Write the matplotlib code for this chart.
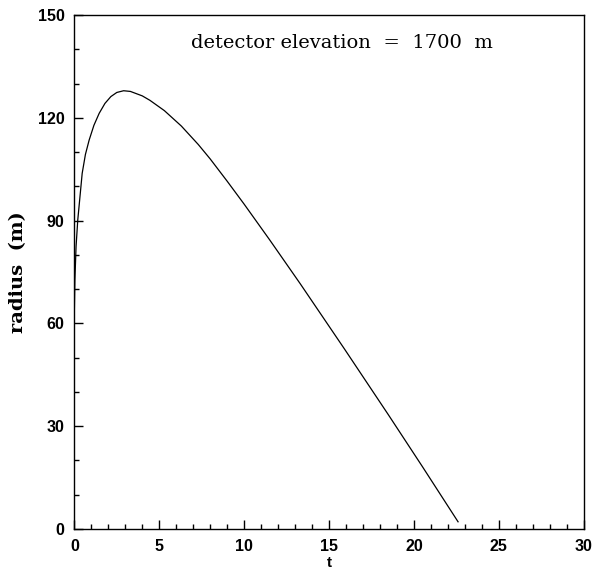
import matplotlib
matplotlib.use("Agg")
import matplotlib.pyplot as plt
from matplotlib.ticker import MultipleLocator

# Curve
t_vals = [0.0, 0.0, 0.03, 0.1, 0.2, 0.46, 0.65, 0.87, 1.15, 1.46, 1.8, 2.15, 2.5,
          2.9, 3.3, 4.0, 4.45, 5.3, 6.3, 7.3, 8.0, 9.0, 10.0, 11.5, 13.3,
          15.9, 18.5, 20.5, 22.6]
r_vals = [0.0, 64.0, 72.7, 82.5, 90.2, 103.8, 109.3, 113.5, 117.8, 121.3, 124.2, 126.2, 127.4,
          127.9, 127.7, 126.4, 125.1, 122.1, 117.6, 112.2, 108.0, 101.5, 94.8, 84.4, 71.6,
          52.6, 33.3, 18.2, 2.1]

x_ticks = [0, 5, 10, 15, 20, 25, 30]
y_ticks = [0, 30, 60, 90, 120, 150]
annotation = "detector elevation  =  1700  m"

fig = plt.figure(figsize=(5.95, 5.73), dpi=100)
ax = fig.add_axes([0.125, 0.0768, 0.856, 0.897])

ax.plot(t_vals, r_vals, color="black", lw=0.9)

ax.set_xlim(0, 30)
ax.set_ylim(0, 150)
ax.set_xticks(x_ticks)
ax.set_yticks(y_ticks)
ax.xaxis.set_minor_locator(MultipleLocator(1))
ax.yaxis.set_minor_locator(MultipleLocator(10))
ax.tick_params(which="both", direction="in", top=False, right=False, width=1.0)
ax.tick_params(which="major", length=6.5)
ax.tick_params(axis="y", which="major", pad=7)
ax.tick_params(axis="x", which="major", pad=7)
ax.tick_params(which="minor", length=3.5)
for lab in ax.get_xticklabels() + ax.get_yticklabels():
    lab.set_fontfamily("Liberation Sans")
    lab.set_fontweight("bold")
    lab.set_fontsize(11.5)

for s in ax.spines.values():
    s.set_linewidth(1.0)

ax.set_xlabel("t", fontfamily="Liberation Sans", fontweight="bold", fontsize=11, labelpad=2)
ax.set_ylabel("radius  (m)", fontfamily="DejaVu Serif", fontweight="semibold", fontsize=14, labelpad=8)

ax.text(0.525, 0.945, annotation, transform=ax.transAxes, ha="center", va="center",
        fontfamily="DejaVu Serif", fontsize=14)

fig.savefig("out.png", dpi=100)
